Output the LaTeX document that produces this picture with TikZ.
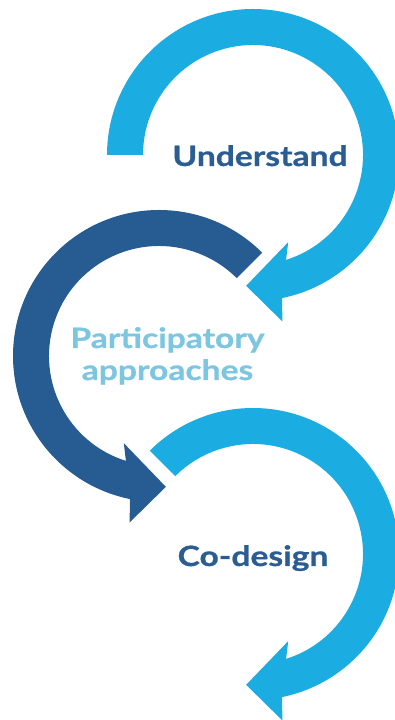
\documentclass[tikz,border=0pt]{standalone}
\usepackage{fontspec}
\setmainfont{Lato}
\newfontfamily\cyclefont{Lato}[FakeStretch=1.2, FakeBold=0.8]
\usetikzlibrary{positioning}

\definecolor{cyclelight}{HTML}{1BACE2}
\definecolor{cycledark}{HTML}{265C91}
\definecolor{labeldark}{HTML}{2B5D93}
\definecolor{labelpale}{HTML}{7DC6E1}

\begin{document}
\begin{tikzpicture}[
        x=1pt, y=1pt,
        loop/.style={draw=none},
        label/.style={font=\cyclefont\fontsize{28}{32}\selectfont\bfseries, inner sep=0pt, anchor=base}
    ]

    \useasboundingbox (0,0) rectangle (394,720);

    % centres of the three loops
    \coordinate (c1) at (253,565);
    \coordinate (c2) at (159,364);
    \coordinate (c3) at (253,166);

    % loops with arrow heads (the middle one is mirrored)
    \foreach \c/\col/\flip/\s in {c1/cyclelight/1/180, c2/cycledark/-1/135, c3/cyclelight/1/135} {
            \fill[loop, \col, shift={(\c)}, xscale=\flip]
                (\s:146) arc[start angle=\s, end angle=-78.5, radius=146]
                -- (-80:169) -- (-93:131) -- (-68:94) -- (-72.5:110)
                arc[start angle=-72.5, end angle=\s, radius=110] -- cycle;
        }

    % labels
    \node[label, labeldark] (understand) at (260,554) {Understand};
    \node[label, labelpale] (partA) at (167.5,372) {Participatory};
    \node[label, labelpale] (partB) at (167.5,340) {approaches};
    \node[label, labeldark] (codesign) at (253,154) {Co-design};

\end{tikzpicture}
\end{document}
